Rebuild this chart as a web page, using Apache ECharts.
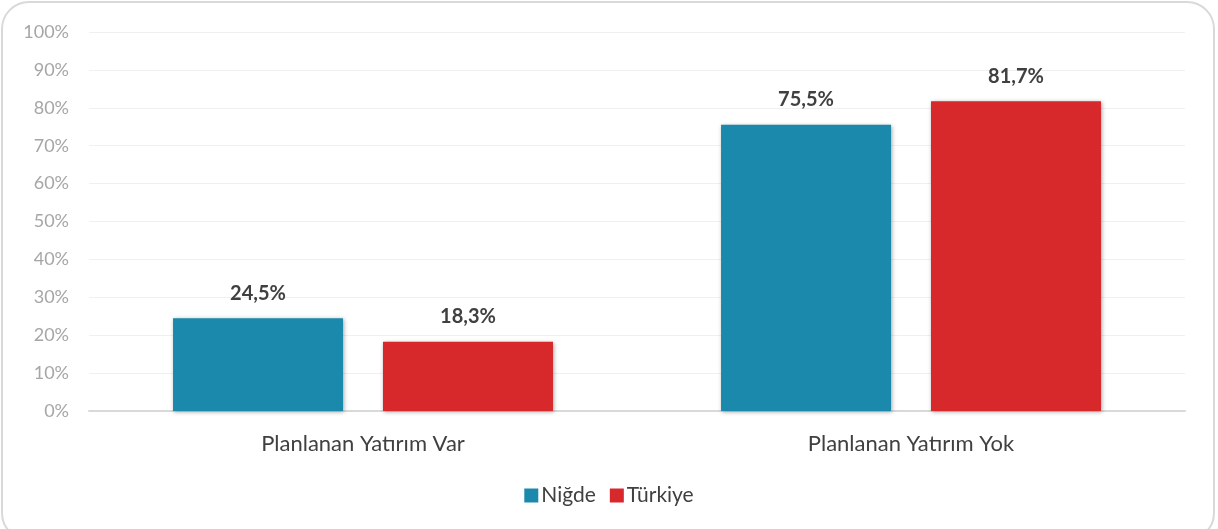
<!DOCTYPE html>
<html>
<head>
<meta charset="utf-8">
<script src="https://cdn.jsdelivr.net/npm/echarts@6/dist/echarts.min.js"></script>
<style>
html, body { margin: 0; padding: 0; background: #fff; }
#frame {
    position: absolute; left: 1px; top: 1px; width: 1214px; height: 540px;
    border: 2px solid #D9D9D9; border-radius: 28px; box-sizing: border-box;
}
#chart { position: absolute; left: 0; top: 0; width: 1218px; height: 529px; }
</style>
</head>
<body>
<div id="frame"></div>
<div id="chart"></div>
<script>
var categories = ["Planlanan Yatırım Var", "Planlanan Yatırım Yok"];
var seriesNames = ["Niğde", "Türkiye"];
var nigde = [24.5, 75.5];
var turkiye = [18.3, 81.7];
var yTicks = [0, 10, 20, 30, 40, 50, 60, 70, 80, 90, 100];

var colors = ["#1B89AC", "#D7282B"];
var fontFam = "Lato, 'Open Sans', sans-serif";

function fmt(v){
    return v.toFixed(1).replace(".", ",") + "%";
}

function makeSeries(name, values, color){
    return {
        name: name,
        type: "bar",
        data: values,
        barWidth: 170,
        barGap: "23.5%",
        itemStyle: {
            color: color,
            shadowColor: "rgba(0,0,0,0.35)",
            shadowBlur: 4,
            shadowOffsetX: 1,
            shadowOffsetY: 1
        },
        label: {
            show: true,
            position: "top",
            distance: 15,
            formatter: function(p){ return fmt(p.value); },
            color: "#404040",
            fontSize: 20,
            fontWeight: "bold",
            fontFamily: fontFam
        }
    };
}

window.onload = function(){
    var myChart = echarts.init(document.getElementById("chart"));
    var option = {
        animation: false,
        grid: { left: 89, right: 33, top: 32, bottom: 118 },
        legend: {
            data: seriesNames,
            bottom: 18,
            left: "center",
            itemWidth: 14,
            itemHeight: 14,
            itemGap: 14,
            icon: "rect",
            textStyle: { color: "#404040", fontSize: 21, fontFamily: fontFam, padding: [0, 0, 0, -2] }
        },
        xAxis: {
            type: "category",
            data: categories,
            axisLine: { lineStyle: { color: "#D9D9D9", width: 2 } },
            axisTick: { show: false },
            axisLabel: { color: "#404040", fontSize: 22, fontFamily: fontFam, margin: 22 }
        },
        yAxis: {
            type: "value",
            min: yTicks[0],
            max: yTicks[yTicks.length - 1],
            interval: 10,
            axisLine: { show: false },
            axisTick: { show: false },
            splitLine: { lineStyle: { color: "#F0F0F0", width: 1 } },
            axisLabel: {
                formatter: "{value}%",
                color: "#A6A6A6",
                fontSize: 18,
                fontFamily: fontFam,
                margin: 20
            }
        },
        series: [
            makeSeries(seriesNames[0], nigde, colors[0]),
            makeSeries(seriesNames[1], turkiye, colors[1])
        ]
    };
    myChart.setOption(option);
};
</script>
</body>
</html>
